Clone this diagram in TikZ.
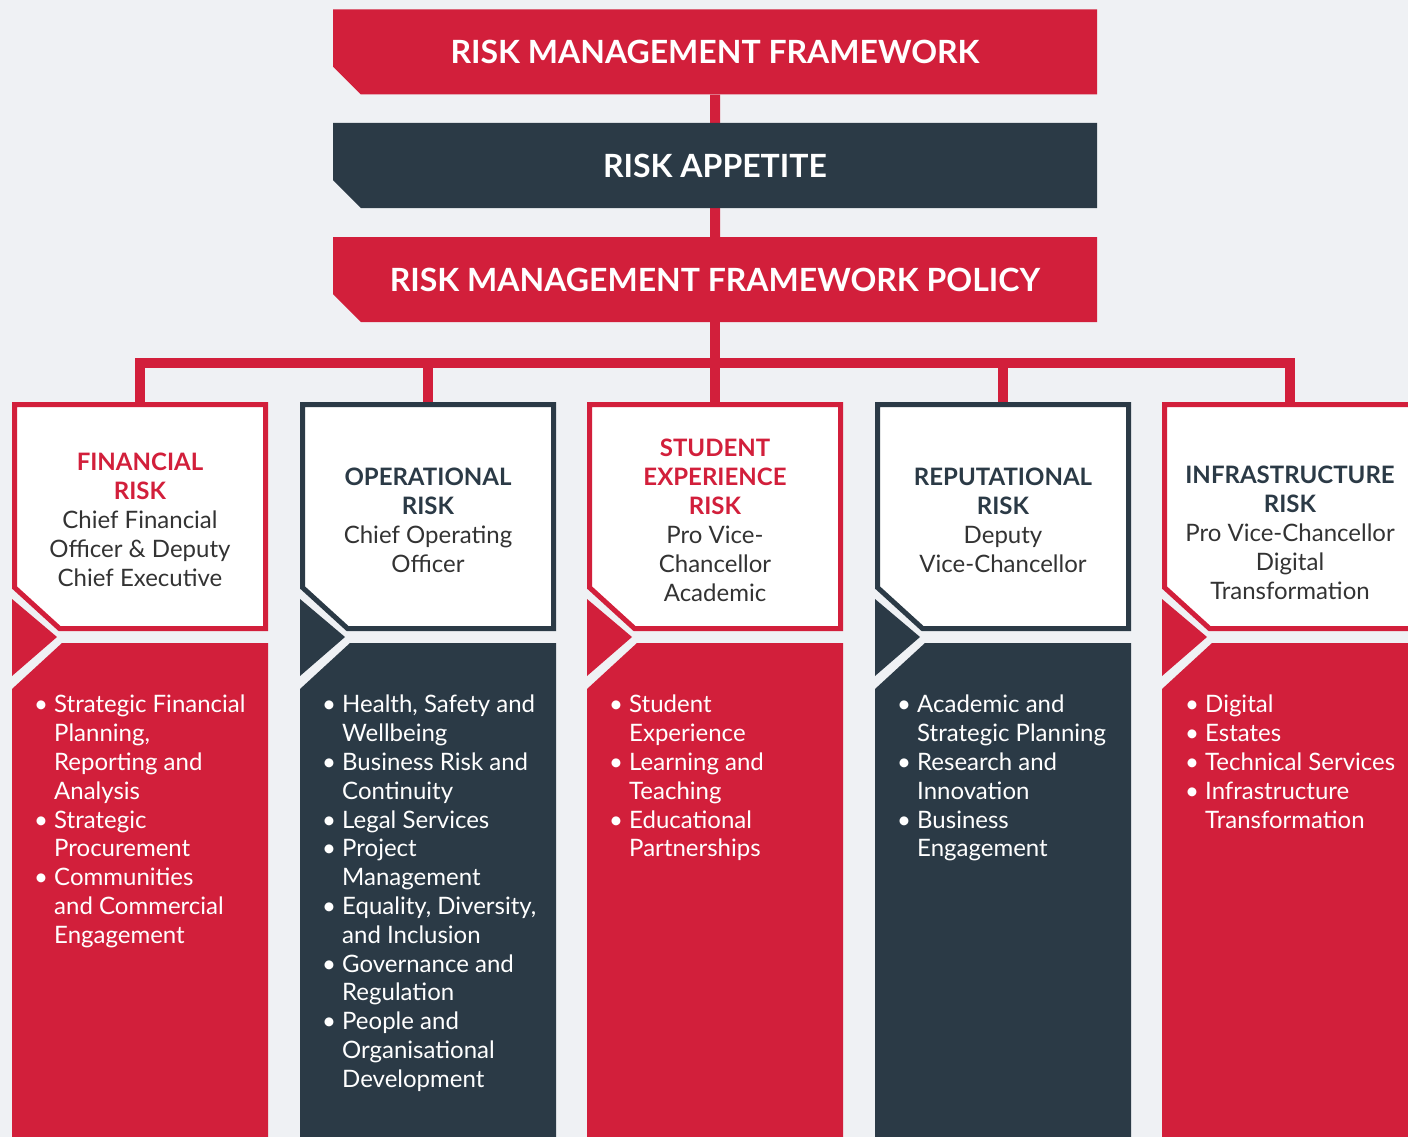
\documentclass[tikz,border=0pt]{standalone}
\usepackage{fontspec}
\setmainfont{Lato}
\usepackage{xcolor}
\usetikzlibrary{positioning,shapes.misc}

\definecolor{riskred}{HTML}{D21F3B}
\definecolor{riskdark}{HTML}{2B3A46}
\definecolor{paper}{HTML}{EFF1F4}
\definecolor{inktext}{HTML}{333333}

\newcommand{\bl}{\makebox[20pt][l]{\textbullet}}
\newcommand{\ct}{\hspace*{20pt}}
\newcommand{\hd}[2]{\textcolor{#1}{\bfseries #2}}

\pgfdeclarelayer{back}
\pgfdeclarelayer{wires}
\pgfdeclarelayer{frames}
\pgfsetlayers{back,wires,frames,main}

\begin{document}
\begin{tikzpicture}[
  x=1pt, y=-1pt,
  banner/.style={chamfered rectangle, chamfered rectangle corners=south west,
    chamfered rectangle xsep=19pt, chamfered rectangle ysep=16pt,
    minimum width=764pt, minimum height=85pt, inner sep=0pt, fill=#1, text=white,
    font=\fontsize{32}{38}\selectfont\bfseries},
  head/.style={rectangle, minimum width=251pt, minimum height=224pt, inner sep=0pt, outer sep=0pt},
  hdtext/.style={align=center, text=inktext, inner sep=0pt, font=\fontsize{24}{29}\selectfont},
  items/.style={anchor=north west, align=left, inner sep=0pt, text=white,
    font=\fontsize{24}{28.8}\selectfont},
  link/.style={draw=riskred, line width=10pt}]

\begin{pgfonlayer}{back}
  \fill[paper] (0,0) rectangle (1408,1137);
\end{pgfonlayer}
\useasboundingbox (0,0) rectangle (1408,1137);

% framework, appetite, policy
\node[banner=riskred] (rmf) at (715,52) {RISK MANAGEMENT FRAMEWORK};
\node[banner=riskdark] (app) at (715,165.5) {RISK APPETITE};
\node[banner=riskred] (pol) at (715,279.5) {RISK MANAGEMENT FRAMEWORK POLICY};

% header places
\node[head] (fin) at (140,516.5) {};
\node[head] (ops) at (428,516.5) {};
\node[head] (stu) at (715,516.5) {};
\node[head] (rep) at (1003,516.5) {};
\node[head] (inf) at (1290,516.5) {};

% column bodies with the arrow notch, then the header frames
\begin{pgfonlayer}{frames}
  \foreach \x/\c in {12/riskred, 300/riskdark, 587/riskred, 875/riskdark, 1162/riskred} {
    \fill[\c] (\x,599) -- (\x+45,637) -- (\x,676) -- cycle;
    \fill[\c] (\x,689) -- (\x+50,643) -- (\x+256,643) -- (\x+256,1137) -- (\x,1137) -- cycle;
  }
  \foreach \n/\c in {fin/riskred, ops/riskdark, stu/riskred, rep/riskdark, inf/riskred}
    \draw[\c, line width=5pt, fill=white] (\n.north west) -- (\n.north east) -- (\n.south east)
      -- ([xshift=45pt]\n.south west) -- ([yshift=41pt]\n.south west) -- cycle;
\end{pgfonlayer}

\node[hdtext] at ([yshift=-3.5pt]fin.center) {\hd{riskred}{FINANCIAL}\\ \hd{riskred}{RISK}\\ Chief Financial\\ Officer \& Deputy\\ Chief Executive};
\node[hdtext] at ([yshift=-3.5pt]ops.center) {\hd{riskdark}{OPERATIONAL}\\ \hd{riskdark}{RISK}\\ Chief Operating\\ Officer};
\node[hdtext] at ([yshift=-3.5pt]stu.center) {\hd{riskred}{STUDENT}\\ \hd{riskred}{EXPERIENCE}\\ \hd{riskred}{RISK}\\ Pro Vice-\\ Chancellor\\ Academic};
\node[hdtext] at ([yshift=-3.5pt]rep.center) {\hd{riskdark}{REPUTATIONAL}\\ \hd{riskdark}{RISK}\\ Deputy\\ Vice-Chancellor};
\node[hdtext] at ([yshift=-16pt]inf.center) {\hd{riskdark}{INFRASTRUCTURE}\\ \hd{riskdark}{RISK}\\ Pro Vice-Chancellor\\ Digital\\ Transformation};

% bullet lists
\node[items] (fin-l) at (34,695) {\bl Strategic Financial\\ \ct Planning,\\ \ct Reporting and\\ \ct Analysis\\
  \bl Strategic\\ \ct Procurement\\ \bl Communities\\ \ct and Commercial\\ \ct Engagement};
\node[items] (ops-l) at (322,695) {\bl Health, Safety and\\ \ct Wellbeing\\ \bl Business Risk and\\ \ct Continuity\\
  \bl Legal Services\\ \bl Project\\ \ct Management\\ \bl Equality, Diversity,\\ \ct and Inclusion\\
  \bl Governance and\\ \ct Regulation\\ \bl People and\\ \ct Organisational\\ \ct Development};
\node[items] (stu-l) at (609,695) {\bl Student\\ \ct Experience\\ \bl Learning and\\ \ct Teaching\\
  \bl Educational\\ \ct Partnerships};
\node[items] (rep-l) at (897,695) {\bl Academic and\\ \ct Strategic Planning\\ \bl Research and\\ \ct Innovation\\
  \bl Business\\ \ct Engagement};
\node[items] (inf-l) at (1185,695) {\bl Digital\\ \bl Estates\\ \bl Technical Services\\ \bl Infrastructure\\
  \ct Transformation};

% red tree behind the boxes
\begin{pgfonlayer}{wires}
  \draw[link] (rmf) -- (pol);
  \foreach \n in {fin,ops,stu,rep,inf}
    \draw[link] (pol.south) -- ++(0,41) -| (\n.north);
\end{pgfonlayer}
\end{tikzpicture}
\end{document}
